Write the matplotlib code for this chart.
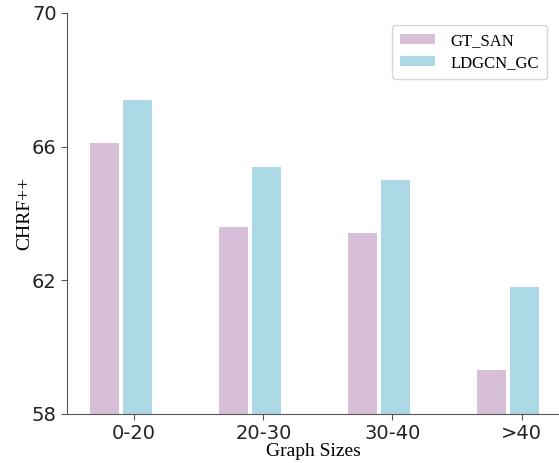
import numpy as np
import matplotlib
matplotlib.use("Agg")
import matplotlib.pyplot as plt

# values
sizes = ["0-20", "20-30", "30-40", ">40"]
gt_san = [66.1, 63.6, 63.4, 59.3]
ldgcn_gc = [67.4, 65.4, 65.0, 61.8]
y_ticks = [58, 62, 66, 70]

fig = plt.figure(figsize=(5.59, 4.63), dpi=100)
ax = fig.add_axes([0.12, 0.106, 0.88, 0.866])

x = np.arange(len(sizes))
width = 0.225
ax.bar(x - 0.23, gt_san, width, color="#d8bfd8", label="GT_SAN")
ax.bar(x + 0.025, ldgcn_gc, width, color="#add8e6", label="LDGCN_GC")

ax.set_xticks(x)
ax.set_xticklabels(sizes, fontsize=14)
ax.set_yticks(y_ticks)
ax.set_yticklabels([str(v) for v in y_ticks], fontsize=14)
ax.set_ylim(58, 70)
ax.set_xlim(-0.52, 3.29)

ax.spines["top"].set_visible(False)
ax.spines["right"].set_visible(False)
for s in ("left", "bottom"):
    ax.spines[s].set_color("#555555")
ax.tick_params(colors="#222222", length=4)
ax.tick_params(axis="both", color="#555555")

ax.set_xlabel("Graph Sizes", family="Liberation Serif", fontsize=14, labelpad=0)
ax.set_ylabel("CHRF++", family="Liberation Serif", fontsize=14, labelpad=-1)

ax.legend(loc="upper right", bbox_to_anchor=(0.993, 0.992),
          prop={"family": "Liberation Serif", "size": 12},
          handlelength=2.1, handleheight=0.6, borderpad=0.5, labelspacing=0.35,
          handletextpad=0.9)

fig.savefig("out.png", dpi=100)
